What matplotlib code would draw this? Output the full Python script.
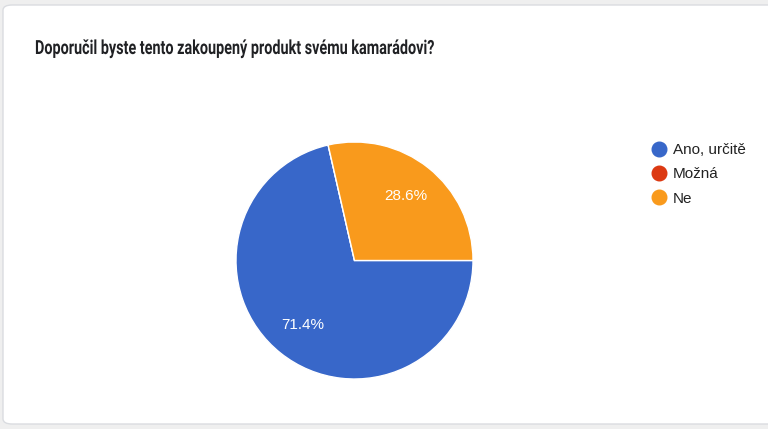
import matplotlib.pyplot as plt
from matplotlib.lines import Line2D
from matplotlib.patches import FancyBboxPatch, PathPatch
from matplotlib.textpath import TextPath
from matplotlib.font_manager import FontProperties
from matplotlib.transforms import Affine2D

title = "Doporučil byste tento zakoupený produkt svému kamarádovi?"
labels = ["Ano, určitě", "Možná", "Ne"]
counts = [5, 0, 2]
colors = ["#3867c9", "#dc3912", "#f99a1c"]

W, H = 768, 429
fig = plt.figure(figsize=(W / 100, H / 100), dpi=100)
fig.patch.set_facecolor("#efefef")

# white card with grey border, kept behind the pie
card = FancyBboxPatch((3 / W, 5 / H), (W + 20) / W, (H - 10) / H,
                      boxstyle="round,pad=0,rounding_size=0.012",
                      transform=fig.transFigure, facecolor="white",
                      edgecolor="#dadce0", linewidth=1.0, zorder=-10)
fig.patches.append(card)

# title is a condensed bold face -> squeeze Roboto Bold horizontally
tp = TextPath((0, 0), title, size=19.5,
              prop=FontProperties(family="Roboto", weight="bold"))
sx = 398 / tp.get_extents().width
tr = Affine2D().scale(sx / W, 1 / H).translate(35 / W, 1 - 54 / H) + fig.transFigure
fig.patches.append(PathPatch(tp, transform=tr, facecolor="#202124",
                             edgecolor="none", lw=0))

# pie centre ~ (354, 260) px, radius ~118.5 px
cx, cy, r = 354.5, 260.5, 118.5
ax = fig.add_axes([(cx - r) / W, (H - cy - r) / H, 2 * r / W, 2 * r / H])
ax.set_facecolor("none")


def pct(p):
    return "" if p < 0.05 else "%.1f%%" % p


wedges, texts, autotexts = ax.pie(counts, colors=colors, startangle=0,
                                  counterclock=False, autopct=pct,
                                  pctdistance=0.7,
                                  wedgeprops=dict(edgecolor="white", linewidth=1))
for t in autotexts:
    t.set_color("white")
    t.set_fontsize(11)
    t.set_family(["Liberation Sans", "DejaVu Sans"])
ax.set_xlim(-1, 1)
ax.set_ylim(-1, 1)
ax.set_aspect("equal")

handles = [Line2D([], [], marker="o", linestyle="none", markersize=10.5,
                  markerfacecolor=c, markeredgecolor=c) for c in colors]
fig.legend(handles, labels, loc="upper left",
           bbox_to_anchor=(651 / W, 1 - 143 / H), frameon=False,
           prop=dict(family=["Liberation Sans", "DejaVu Sans"], size=11),
           labelcolor="#222222", handlelength=1.0, handletextpad=0.45,
           labelspacing=0.68, borderpad=0, borderaxespad=0)

fig.savefig("out.png", dpi=100, facecolor=fig.get_facecolor())
